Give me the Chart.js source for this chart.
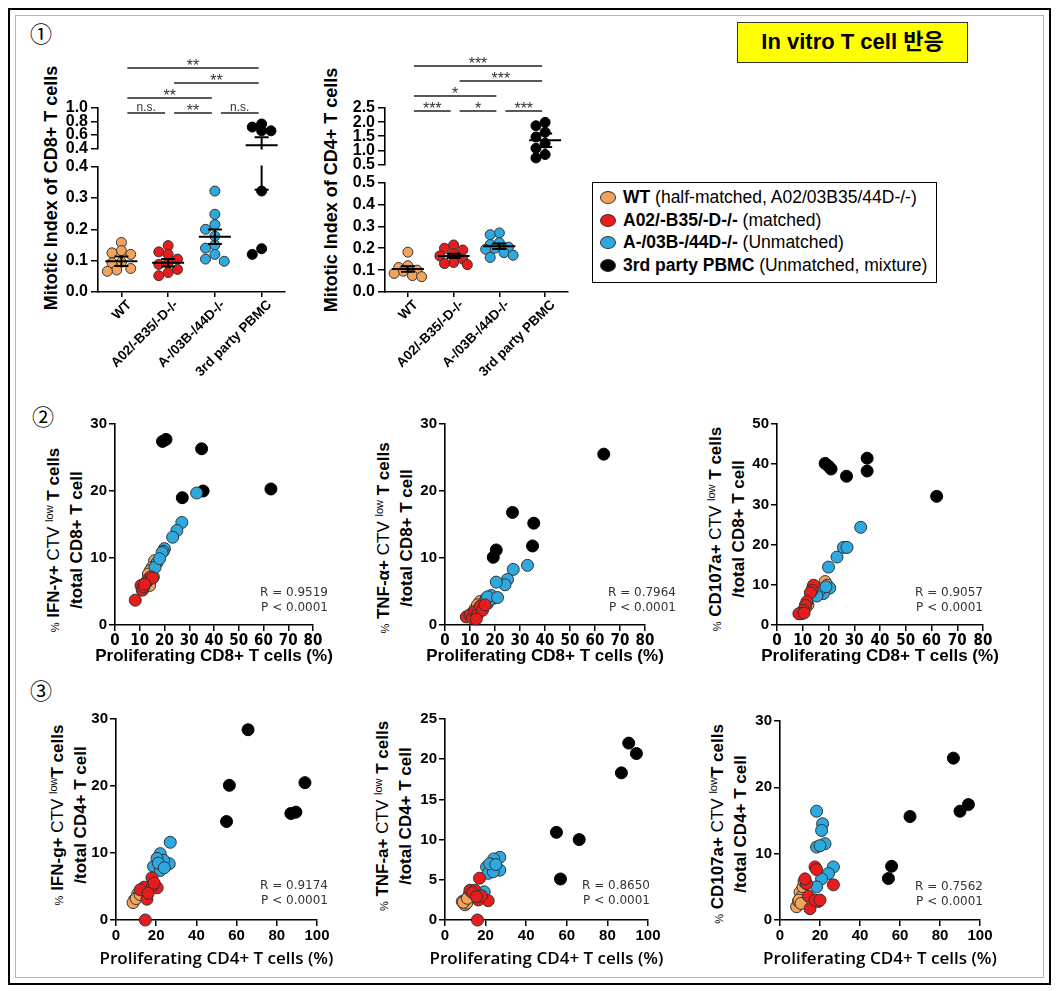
<!DOCTYPE html>
<html>
<head>
<meta charset="utf-8">
<script src="https://cdn.jsdelivr.net/npm/chart.js@4.4.1/dist/chart.umd.min.js"></script>
<style>
  body { margin: 0; background: #fff; }
  #page { position: relative; width: 1063px; height: 991px; overflow: hidden;
          font-family: 'Liberation Sans', Arial, 'Noto Sans CJK KR', sans-serif; color: #000; }
  #page canvas { position: absolute; }
  .abs { position: absolute; white-space: nowrap; }
  #frame { left: 8px; top: 8px; width: 1043px; height: 977px; border: 2px solid #000; box-sizing: border-box; }
  #frameInner { left: 15px; top: 15px; width: 1029px; height: 963px; border: 1px solid #b5b5b5; box-sizing: border-box; }
  .circ { font-family: 'Noto Sans CJK KR', 'DejaVu Sans', sans-serif; font-size: 22px; line-height: 24px;
          transform: translate(-50%, -50%); }
  #title { left: 737px; top: 22px; width: 231px; height: 41px; background: #ffff00; border: 1.5px solid #333;
           box-sizing: border-box; text-align: center; font-weight: bold; font-size: 22px; line-height: 38px; }
  #legend { left: 592px; top: 182px; width: 345px; height: 101px; border: 1.5px solid #000;
            box-sizing: border-box; font-size: 17.5px; padding-top: 3px; background: #fff; }
  #legend .item { position: relative; height: 22.7px; line-height: 22.7px; padding-left: 30px; white-space: nowrap; }
  #legend .mk { position: absolute; left: 7px; top: 5px; width: 16px; height: 13px; border-radius: 50%;
                border: 1px solid #333; box-sizing: border-box; }
  .ytitle1 { transform: translate(-50%, -50%) rotate(-90deg); font-weight: bold; font-size: 18px; line-height: 20px; }
  .ytitle { transform: translate(-50%, -50%) rotate(-90deg); text-align: center; font-size: 17px; line-height: 22px; }
  .ytitle .pct { font-size: 11px; }
  .ytitle sup { font-size: 11px; vertical-align: 6px; line-height: 0; }
  .xtitle { width: 320px; text-align: center; font-size: 17px; line-height: 20px; }
  .xtitle.r2 { font-weight: bold; }
  .xtitle.r3 { font-family: 'Open Sans', 'Liberation Sans', sans-serif; font-weight: 600; }
  .rp { font-family: 'DejaVu Sans', sans-serif; font-size: 12px; line-height: 15px; color: #333;
        text-align: right; width: 120px; }
</style>
</head>
<body>
<div id="page">
  <div id="frame" class="abs"></div>
  <div id="frameInner" class="abs"></div>

  <div class="abs circ" style="left:41px;top:32px">①</div>
  <div class="abs circ" style="left:43px;top:415px">②</div>
  <div class="abs circ" style="left:41px;top:689px">③</div>

  <div id="title" class="abs">In vitro T cell 반응</div>
  <div id="legend" class="abs"></div>

  <!-- row 1 y titles -->
  <div class="abs ytitle1" style="left:51px;top:188px">Mitotic Index of CD8+ T cells</div>
  <div class="abs ytitle1" style="left:331px;top:190px">Mitotic Index of CD4+ T cells</div>

  <!-- row 2 y titles -->
  <div class="abs ytitle" style="left:65px;top:540px">
    <div><span class="pct">%</span> <b>IFN-γ+</b> CTV <sup>low</sup> <b>T cells</b></div>
    <div><b>/total CD8+ T cell</b></div>
  </div>
  <div class="abs ytitle" style="left:395px;top:538px">
    <div><span class="pct">%</span> <b>TNF-α+</b> CTV <sup>low</sup> <b>T cells</b></div>
    <div><b>/total CD8+ T cell</b></div>
  </div>
  <div class="abs ytitle" style="left:727px;top:529px">
    <div><span class="pct">%</span> <b>CD107a+</b> CTV <sup>low</sup> <b>T cells</b></div>
    <div><b>/total CD8+ T cell</b></div>
  </div>

  <!-- row 3 y titles -->
  <div class="abs ytitle" style="left:69px;top:815px">
    <div><span class="pct">%</span> <b>IFN-g+</b> CTV <sup>low</sup><b>T cells</b></div>
    <div><b>/total CD4+ T cell</b></div>
  </div>
  <div class="abs ytitle" style="left:394px;top:816px">
    <div><span class="pct">%</span> <b>TNF-a+</b> CTV <sup>low</sup> <b>T cells</b></div>
    <div><b>/total CD4+ T cell</b></div>
  </div>
  <div class="abs ytitle" style="left:729px;top:824px">
    <div><span class="pct">%</span> <b>CD107a+</b> CTV <sup>low</sup><b>T cells</b></div>
    <div><b>/total CD4+ T cell</b></div>
  </div>
</div>

<script>
// ---- groups ----
const groups = ['WT', 'A02/-B35/-D-/-', 'A-/03B-/44D-/-', '3rd party PBMC'];
const groupNotes = ['(half-matched, A02/03B35/44D-/-)', '(matched)', '(Unmatched)', '(Unmatched, mixture)'];
const groupColors = ['#F3A35B', '#E81C1C', '#2EA9DF', '#000000'];
const groupEdges = ['#333333', '#333333', '#333333', '#000000'];
const drawOrder = [2, 0, 1, 3]; // red on top, black at the bottom

// ---- row 1: mitotic index, CD8 ----
const cd8WT = [0.158, 0.132, 0.125, 0.12, 0.095, 0.093, 0.075, 0.07, 0.066];
const cd8A02 = [0.148, 0.128, 0.12, 0.105, 0.092, 0.088, 0.072, 0.062, 0.052];
const cd8Aneg = [0.322, 0.248, 0.215, 0.2, 0.178, 0.15, 0.14, 0.12, 0.105, 0.098];
const cd8PBMC = [0.763, 0.717, 0.661, 0.661, 0.322, 0.138, 0.12];
const cd8Mean = [0.098, 0.093, 0.176, 0.446];
const cd8Sem = [0.015, 0.012, 0.023, 0.12];
const cd8LowerTicks = [0, 0.1, 0.2, 0.3, 0.4];
const cd8UpperTicks = [0.4, 0.6, 0.8, 1.0];
const cd8Brackets = [[0, 1, 'n.s.', 0], [1, 2, '**', 0], [2, 3, 'n.s.', 0], [0, 2, '**', 1], [1, 3, '**', 2], [0, 3, '**', 3]];

// ---- row 1: mitotic index, CD4 ----
const cd4WT = [0.182, 0.12, 0.112, 0.1, 0.095, 0.085, 0.075, 0.07];
const cd4A02 = [0.215, 0.2, 0.192, 0.175, 0.165, 0.15, 0.135, 0.13, 0.125];
const cd4Aneg = [0.27, 0.262, 0.225, 0.217, 0.205, 0.2, 0.195, 0.18, 0.168, 0.158];
const cd4PBMC = [1.99, 1.87, 1.64, 1.47, 1.25, 1.07, 0.85, 0.73];
const cd4Mean = [0.105, 0.165, 0.209, 1.357];
const cd4Sem = [0.013, 0.01, 0.013, 0.24];
const cd4LowerTicks = [0, 0.1, 0.2, 0.3, 0.4, 0.5];
const cd4UpperTicks = [0.5, 1.0, 1.5, 2.0, 2.5];
const cd4Brackets = [[0, 1, '***', 0], [1, 2, '*', 0], [2, 3, '***', 0], [0, 2, '*', 1], [1, 3, '***', 2], [0, 3, '***', 3]];

// ---- row 2: CD8 scatter [proliferating %, cytokine %] ----
const ifn8WT = [[16, 9.6], [15, 8.6], [14.2, 8.1], [13.5, 7.6], [15.5, 7.2], [13, 6.6], [12.2, 6.1], [14, 5.9], [11.2, 5.3]];
const ifn8A02 = [[8.2, 3.7], [10.5, 5.9], [11, 5.2], [11.6, 5.7], [12.8, 6.4], [13.6, 6.9], [14.5, 7.2], [15.2, 7], [12, 6.1]];
const ifn8Aneg = [[33, 19.7], [27, 15.3], [25, 14.1], [23.3, 13.1], [20, 11.4], [19.5, 11], [19, 10.8], [17, 9.3], [16.2, 8.6], [18, 9.9]];
const ifn8PBMC = [[19.2, 27.4], [20.6, 27.7], [35, 26.3], [35.6, 20], [63, 20.3], [27.2, 19]];

const tnf8WT = [[10, 1.5], [12, 2.4], [14, 3.5], [15, 2.8], [13, 3], [16, 3.5], [11, 1.8], [17, 3.2], [16.5, 4]];
const tnf8A02 = [[8.5, 1.2], [10, 1.5], [11, 1], [12, 2], [13, 1.6], [14, 2.8], [15, 2.2], [16, 3], [12.5, 0.9]];
const tnf8Aneg = [[33, 8.9], [27.3, 8.3], [25, 6.8], [24, 6], [20.5, 6.4], [19.5, 4], [17.5, 3.6], [18.5, 4.4], [17, 4.2], [21, 4.1]];
const tnf8PBMC = [[63.5, 25.5], [27, 16.8], [35.5, 15.2], [35, 11.8], [20.5, 11.2], [19.3, 10.1]];

const cd107x8WT = [[18.7, 10.8], [19.5, 9.9], [14, 9.5], [13, 8], [12, 5], [11, 4.2], [10, 3], [9, 2.8], [17, 9]];
const cd107x8A02 = [[14.2, 9.9], [13.6, 8.6], [13, 8], [11.6, 5.8], [11, 4.9], [10.3, 3.7], [9.7, 2.9], [8.5, 2.8], [10.5, 3]];
const cd107x8Aneg = [[32.5, 24.3], [25.8, 19.3], [27.2, 19.3], [23.3, 16.9], [20, 14.4], [20.5, 9.2], [18, 7.8], [16.5, 8.6], [15.5, 7.2], [19, 9.5]];
const cd107x8PBMC = [[18.7, 40.2], [20, 39.5], [21, 38.8], [27, 37], [35, 41.5], [35, 38.3], [62, 32]];

// ---- row 3: CD4 scatter ----
const ifn4WT = [[9.2, 3], [8.5, 2.6], [10.8, 3.9], [12.4, 4.4], [11, 3.5], [13, 4.6], [10, 3.2], [12, 3.8], [14, 4.8]];
const ifn4A02 = [[17.9, 6.3], [14, 4.9], [20.5, 4.8], [18.2, 5.1], [15.4, 3.1], [14.6, 0], [12, 4.5], [16, 4], [19, 5.5]];
const ifn4Aneg = [[27, 11.6], [22, 9.9], [26.5, 8.4], [18.7, 8], [22, 7.4], [23.7, 8.9], [20.4, 9.2], [21, 8.5], [24, 7.8]];
const ifn4PBMC = [[65.7, 28.4], [56.4, 20.1], [55, 14.7], [94, 20.5], [87, 15.9], [89.5, 16.1]];

const tnf4WT = [[9.8, 1.9], [8.5, 2.3], [10.7, 2.1], [11.5, 2.9], [12, 3.2], [10, 2.5], [13, 3.5], [9, 2.2], [11, 2.7]];
const tnf4A02 = [[17, 5.2], [16, 0], [21.3, 2.4], [16.4, 2.5], [12.3, 3.7], [14.8, 3.7], [13.5, 3.4], [18, 3], [15.5, 2.9]];
const tnf4Aneg = [[27, 7.8], [24, 7.6], [27, 6.2], [20.5, 6.6], [21.3, 5.8], [23.8, 6], [19.3, 3.5], [22, 7], [25, 6.9]];
const tnf4PBMC = [[90.5, 22], [94.3, 20.7], [86.9, 18.3], [54.9, 10.9], [66.1, 10], [56.9, 5.1]];

const cd107x4WT = [[10, 4.2], [8.3, 2], [10.8, 3.5], [9.2, 2.8], [11.5, 5], [12, 5.8], [9.5, 3], [13, 5.5], [10.5, 2.5]];
const cd107x4A02 = [[17.5, 8], [18.3, 7.6], [26.7, 5.3], [13.3, 5.5], [14.2, 3.6], [19.2, 2.8], [15, 1.7], [17.5, 3], [12.5, 6.2], [20, 3]];
const cd107x4Aneg = [[18.3, 16.4], [21.3, 14.5], [20.8, 13.5], [22.5, 11.5], [18.3, 11], [26.7, 8], [24.2, 7], [20.8, 6.2], [18.3, 5], [20, 11.2]];
const cd107x4PBMC = [[86.7, 24.4], [94.2, 17.4], [90, 16.4], [65, 15.6], [55.8, 8.1], [54.2, 6.25]];

const rValues = ['0.9519', '0.7964', '0.9057', '0.9174', '0.8650', '0.7562'];
const pValues = ['0.0001', '0.0001', '0.0001', '0.0001', '0.0001', '0.0001'];

document.addEventListener('DOMContentLoaded', function () {
    const page = document.getElementById('page');
    Chart.defaults.font.family = "'Liberation Sans', Arial, sans-serif";
    Chart.defaults.color = '#000';

    const narrowFont = "'Liberation Sans Narrow', 'DejaVu Sans Condensed', 'Liberation Sans', sans-serif";
    const axisGrid = (len) => ({ display: true, drawOnChartArea: false, drawTicks: true, tickLength: len, color: '#000', lineWidth: 1.5 });
    const axisBorder = { display: true, color: '#000', width: 1.6 };

    // legend box
    const legend = document.getElementById('legend');
    groups.forEach((g, i) => {
        const item = document.createElement('div');
        item.className = 'item';
        item.innerHTML = `<span class="mk" style="background:${groupColors[i]}"></span><b>${g}</b> ${groupNotes[i]}`;
        legend.appendChild(item);
    });

    // put a canvas so that its chart area lands on [left, top, right, bottom]
    function placeCanvas(id, area, pad, yW, xH) {
        const [l, t, r, b] = area;
        const c = document.createElement('canvas');
        const left = l - yW - pad.left, top = t - pad.top;
        const w = r + pad.right - left, h = b + xH + pad.bottom - top;
        c.id = id;
        c.width = w; c.height = h;
        c.style.left = left + 'px'; c.style.top = top + 'px';
        c.style.width = w + 'px'; c.style.height = h + 'px';
        page.appendChild(c);
        return c;
    }

    // column-scatter spreading so dots with close values sit side by side
    function swarmOffsets(vals, pxPerUnit, catPx) {
        const cands = [0, -0.2, 0.2, -0.1, 0.1, -0.3, 0.3];
        const placed = [];
        const offs = [];
        const idx = vals.map((v, i) => i).sort((a, b) => vals[b] - vals[a]);
        idx.forEach(i => {
            let best = 0, bestGap = -1;
            for (const c of cands) {
                let gap = Infinity;
                placed.forEach(p => { gap = Math.min(gap, Math.hypot((c - p.o) * catPx, (vals[i] - p.v) * pxPerUnit)); });
                if (gap >= 8) { best = c; bestGap = gap; break; }
                if (gap > bestGap) { best = c; bestGap = gap; }
            }
            placed.push({ o: best, v: vals[i] });
            offs[i] = best;
        });
        return offs;
    }

    function meanSemPlugin(means, sems) {
        return {
            id: 'meanSem',
            afterDatasetsDraw(chart) {
                const { ctx, chartArea: a, scales: { x, y } } = chart;
                ctx.save();
                ctx.beginPath();
                ctx.rect(a.left, a.top - 1, a.right - a.left, a.bottom - a.top + 2);
                ctx.clip();
                ctx.strokeStyle = '#000';
                ctx.lineWidth = 2;
                means.forEach((m, i) => {
                    const cx = x.getPixelForValue(i);
                    const ym = y.getPixelForValue(m);
                    const yHi = y.getPixelForValue(m + sems[i]);
                    const yLo = y.getPixelForValue(m - sems[i]);
                    ctx.beginPath();
                    ctx.moveTo(cx - 16, ym); ctx.lineTo(cx + 16, ym);
                    ctx.moveTo(cx, yHi); ctx.lineTo(cx, yLo);
                    ctx.moveTo(cx - 7, yHi); ctx.lineTo(cx + 7, yHi);
                    ctx.moveTo(cx - 7, yLo); ctx.lineTo(cx + 7, yLo);
                    ctx.stroke();
                });
                ctx.restore();
            }
        };
    }

    function bracketPlugin(list, base) {
        return {
            id: 'brackets',
            afterDraw(chart) {
                const { ctx, chartArea: a, scales: { x } } = chart;
                ctx.save();
                ctx.strokeStyle = '#222';
                ctx.fillStyle = '#333';
                ctx.lineWidth = 1.3;
                ctx.textAlign = 'center';
                ctx.textBaseline = 'alphabetic';
                list.forEach(([g1, g2, label, level]) => {
                    const y = a.top + base - level * 15;
                    const x1 = x.getPixelForValue(g1) + 6, x2 = x.getPixelForValue(g2) - 3;
                    ctx.beginPath(); ctx.moveTo(x1, y); ctx.lineTo(x2, y); ctx.stroke();
                    const stars = label.indexOf('*') >= 0;
                    ctx.font = stars ? "16px 'Liberation Sans', Arial" : "12px 'Liberation Sans', Arial";
                    ctx.fillText(label, (x1 + x2) / 2, stars ? y + 3 : y - 2);
                });
                ctx.restore();
            }
        };
    }

    // one dot-plot panel = upper chart (above the axis break) + lower chart
    function dotPanel(p) {
        ['upper', 'lower'].forEach(part => {
            const upper = part === 'upper';
            const ticks = upper ? p.upperTicks : p.lowerTicks;
            const top = upper ? p.upperTop : p.lowerTop;
            const bottom = upper ? p.upperBottom : p.lowerBottom;
            const yMin = ticks[0], yMax = ticks[ticks.length - 1];
            const pad = upper ? { top: top - 40, right: 10, bottom: 10, left: 0 } : { top: 10, right: 10, bottom: 0, left: 0 };
            const xH = upper ? 0 : 85;
            const canvas = placeCanvas(p.id + part, [p.left, top, p.right, bottom], pad, 45, xH);
            const pxPerUnit = (bottom - top) / (yMax - yMin);
            const catPx = (p.right - p.left) / groups.length;

            const datasets = p.values.map((vals, gi) => {
                const keep = vals.filter(v => upper ? v > p.cut : v <= p.cut);
                const offs = swarmOffsets(keep, pxPerUnit, catPx);
                return {
                    data: keep.map((v, k) => ({ x: gi + offs[k], y: v })),
                    backgroundColor: groupColors[gi],
                    borderColor: groupEdges[gi],
                    borderWidth: 1,
                    pointRadius: 5,
                    order: drawOrder[gi],
                    clip: false
                };
            });

            const plugins = [meanSemPlugin(p.means, p.sems)];
            if (upper) plugins.push(bracketPlugin(p.brackets, p.bracketBase));

            new Chart(canvas, {
                type: 'scatter',
                data: { datasets: datasets },
                plugins: plugins,
                options: {
                    responsive: false,
                    animation: false,
                    layout: { padding: pad },
                    plugins: { legend: { display: false }, tooltip: { enabled: false } },
                    scales: {
                        x: upper ? { type: 'linear', min: -0.5, max: 3.5, display: false } : {
                            type: 'linear', min: -0.5, max: 3.5,
                            afterBuildTicks: s => { s.ticks = groups.map((g, i) => ({ value: i })); },
                            afterFit: s => { s.height = xH; },
                            ticks: { callback: v => groups[v], autoSkip: false, minRotation: 45, maxRotation: 45,
                                     labelOffset: 8, padding: 0, font: { size: 13.5, weight: 'bold' }, color: '#000' },
                            grid: axisGrid(5),
                            border: axisBorder
                        },
                        y: {
                            type: 'linear', min: yMin, max: yMax,
                            afterBuildTicks: s => { s.ticks = ticks.map(v => ({ value: v })); },
                            afterFit: s => { s.width = 45; },
                            ticks: { callback: v => v.toFixed(1), autoSkip: false, padding: 3,
                                     font: { size: 16, weight: 'bold' }, color: '#000' },
                            grid: axisGrid(7),
                            border: axisBorder
                        }
                    }
                }
            });
        });
    }

    dotPanel({
        id: 'cd8', left: 98, right: 285, upperTop: 108, upperBottom: 151, lowerTop: 164, lowerBottom: 292,
        cut: 0.4, lowerTicks: cd8LowerTicks, upperTicks: cd8UpperTicks,
        values: [cd8WT, cd8A02, cd8Aneg, cd8PBMC], means: cd8Mean, sems: cd8Sem,
        brackets: cd8Brackets, bracketBase: 5
    });
    dotPanel({
        id: 'cd4', left: 385, right: 568, upperTop: 108, upperBottom: 167, lowerTop: 180, lowerBottom: 292,
        cut: 0.5, lowerTicks: cd4LowerTicks, upperTicks: cd4UpperTicks,
        values: [cd4WT, cd4A02, cd4Aneg, cd4PBMC], means: cd4Mean, sems: cd4Sem,
        brackets: cd4Brackets, bracketBase: 3
    });

    // ---- correlation scatter panels ----
    const rowStyle = {
        2: { xTick: { family: narrowFont, size: 15, weight: 'bold' }, yTick: { size: 15, weight: 'bold' },
             xTitle: 'Proliferating CD8+ T cells (%)', titleY: 656 },
        3: { xTick: { size: 15, weight: 'bold' }, yTick: { size: 15, weight: 'bold' },
             xTitle: 'Proliferating CD4+ T cells (%)', titleY: 958 }
    };

    const scatterPanels = [
        { id: 'ifn8', row: 2, sets: [ifn8WT, ifn8A02, ifn8Aneg, ifn8PBMC], area: [115, 423, 313, 625], xMax: 80, xStep: 10, yMax: 30, yStep: 10, rp: [328, 592] },
        { id: 'tnf8', row: 2, sets: [tnf8WT, tnf8A02, tnf8Aneg, tnf8PBMC], area: [445, 423, 645, 625], xMax: 80, xStep: 10, yMax: 30, yStep: 10, rp: [676, 592] },
        { id: 'cd107x8', row: 2, sets: [cd107x8WT, cd107x8A02, cd107x8Aneg, cd107x8PBMC], area: [777, 423, 983, 625], xMax: 80, xStep: 10, yMax: 50, yStep: 10, rp: [983, 592] },
        { id: 'ifn4', row: 3, sets: [ifn4WT, ifn4A02, ifn4Aneg, ifn4PBMC], area: [116, 718, 317, 920], xMax: 100, xStep: 20, yMax: 30, yStep: 10, rp: [328, 885] },
        { id: 'tnf4', row: 3, sets: [tnf4WT, tnf4A02, tnf4Aneg, tnf4PBMC], area: [445, 718, 648, 920], xMax: 100, xStep: 20, yMax: 25, yStep: 5, rp: [650, 885] },
        { id: 'cd107x4', row: 3, sets: [cd107x4WT, cd107x4A02, cd107x4Aneg, cd107x4PBMC], area: [780, 720, 980, 920], xMax: 100, xStep: 20, yMax: 30, yStep: 10, rp: [983, 886] }
    ];

    scatterPanels.forEach((p, pi) => {
        const st = rowStyle[p.row];
        const pad = { top: 10, right: 15, bottom: 0, left: 0 };
        const canvas = placeCanvas(p.id, p.area, pad, 40, 28);
        new Chart(canvas, {
            type: 'scatter',
            data: {
                datasets: p.sets.map((pts, gi) => ({
                    data: pts.map(pt => ({ x: pt[0], y: pt[1] })),
                    backgroundColor: groupColors[gi],
                    borderColor: groupEdges[gi],
                    borderWidth: 1,
                    pointRadius: 6,
                    order: drawOrder[gi],
                    clip: false
                }))
            },
            options: {
                responsive: false,
                animation: false,
                layout: { padding: pad },
                plugins: { legend: { display: false }, tooltip: { enabled: false } },
                scales: {
                    x: {
                        type: 'linear', min: 0, max: p.xMax,
                        afterFit: s => { s.height = 28; },
                        ticks: { stepSize: p.xStep, autoSkip: false, maxRotation: 0, padding: 1, font: st.xTick, color: '#000' },
                        grid: axisGrid(6),
                        border: axisBorder
                    },
                    y: {
                        type: 'linear', min: 0, max: p.yMax,
                        afterFit: s => { s.width = 40; },
                        ticks: { stepSize: p.yStep, autoSkip: false, padding: 2, font: st.yTick, color: '#000' },
                        grid: axisGrid(6),
                        border: axisBorder
                    }
                }
            }
        });

        // x axis title (wider than the axis, so kept out of the canvas)
        const xt = document.createElement('div');
        xt.className = 'abs xtitle r' + p.row;
        xt.style.left = ((p.area[0] + p.area[2]) / 2 - 160) + 'px';
        xt.style.top = (st.titleY - 10) + 'px';
        xt.textContent = st.xTitle;
        page.appendChild(xt);

        // R / P annotation
        const rp = document.createElement('div');
        rp.className = 'abs rp';
        rp.style.left = (p.rp[0] - 120) + 'px';
        rp.style.top = (p.rp[1] - 7.5) + 'px';
        rp.innerHTML = `R = ${rValues[pi]}<br>P &lt; ${pValues[pi]}`;
        page.appendChild(rp);
    });
});
</script>
</body>
</html>
